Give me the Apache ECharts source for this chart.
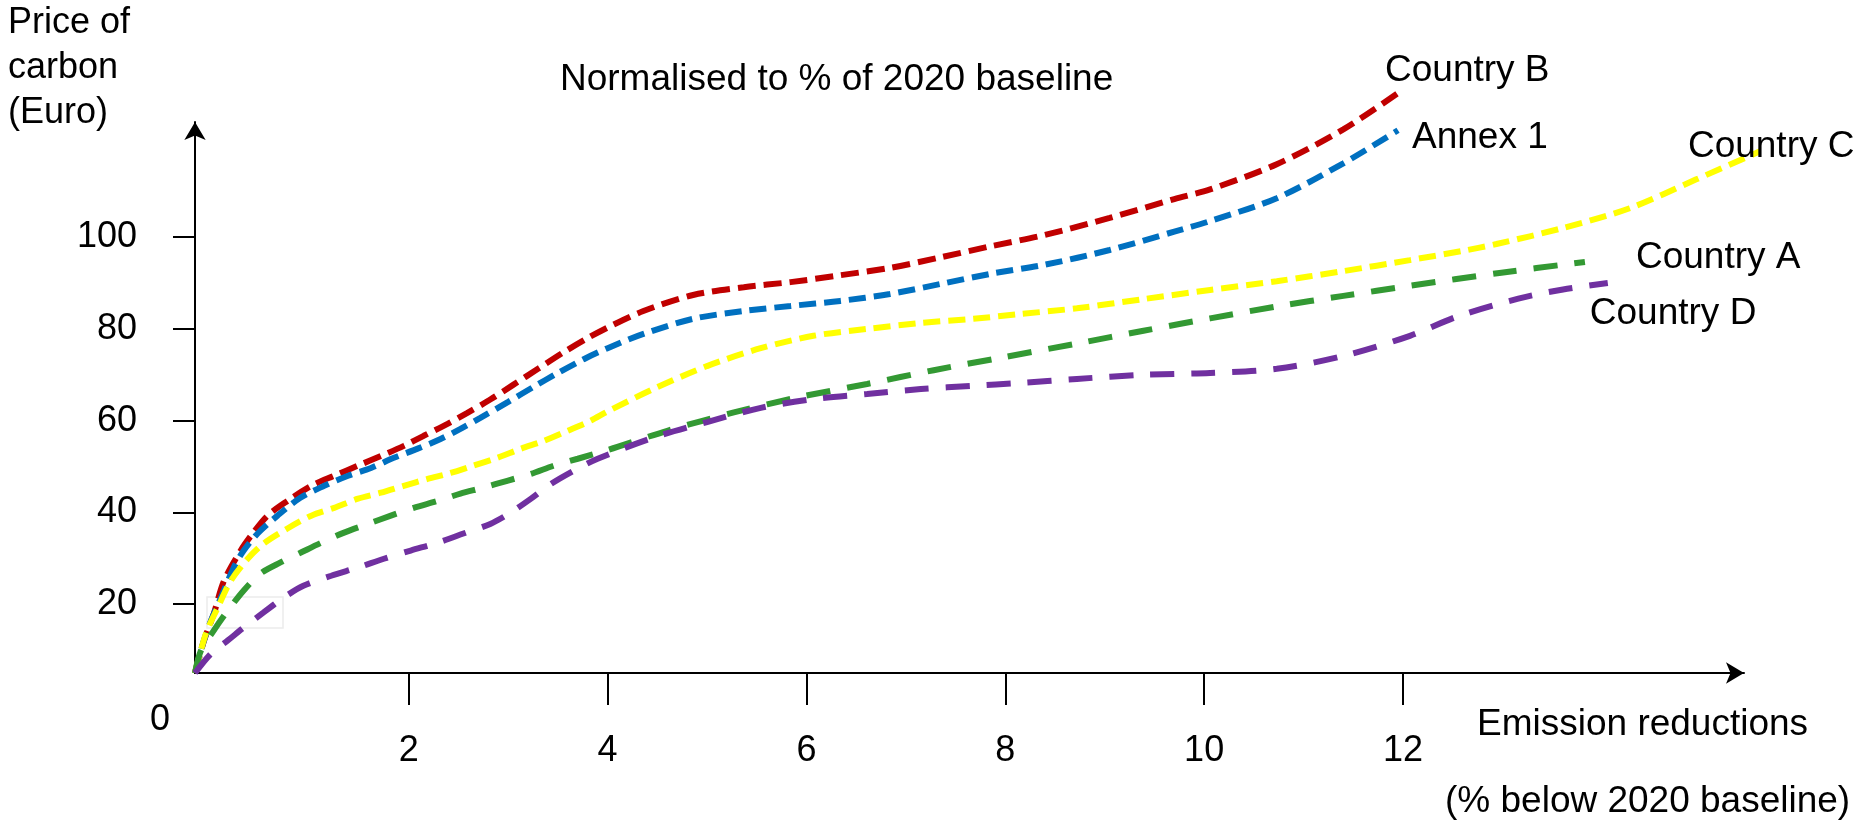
<!DOCTYPE html>
<html>
<head>
<meta charset="utf-8">
<script src="https://cdn.jsdelivr.net/npm/echarts@6/dist/echarts.min.js"></script>
<style>html,body{margin:0;padding:0;background:#fff;}#c{width:1860px;height:822px;}</style>
</head>
<body>
<div id="c"></div>
<script>
// ---- data (x: emission reductions %, y: price of carbon, Euro) ----
const xTickValues = [2, 4, 6, 8, 10, 12];
const yTickValues = [20, 40, 60, 80, 100];
const seriesNames = ['Country B', 'Annex 1', 'Country C', 'Country A', 'Country D'];

const countryB = [[-0.15,5],[-0.06,12],[0.04,18],[0.14,25],[0.31,31.7],[0.43,35.4],[0.58,39.3],[0.78,42.5],[1.02,45.8],[1.25,48],[1.49,50.2],[1.72,52.3],[1.95,54.5],[2.15,56.7],[2.39,59.3],[2.59,61.7],[2.82,64.6],[3.05,67.8],[3.3,71.3],[3.55,74.8],[3.8,78],[4.0,80.3],[4.36,83.9],[4.86,87.4],[5.37,89.1],[5.84,90.2],[6.34,91.7],[6.84,93.3],[7.35,95.6],[7.85,98],[8.4,100.5],[9.05,104.2],[9.7,108.3],[10.06,110.4],[10.73,115.9],[11.4,123.5],[11.95,131.4]];
const annex1 = [[-0.15,5],[-0.07,11.4],[0.01,16.4],[0.11,21.4],[0.24,28],[0.34,31.7],[0.48,35.4],[0.68,39.3],[0.91,43.2],[1.15,45.8],[1.39,48],[1.62,49.7],[1.85,51.9],[2.09,53.9],[2.32,56],[2.52,58.2],[2.72,60.6],[3.0,64.1],[3.25,67.3],[3.5,70.4],[3.76,73.4],[4.0,75.8],[4.36,78.9],[4.86,82.2],[5.37,83.9],[5.84,85],[6.34,86.1],[6.84,87.6],[7.35,89.8],[7.85,92],[8.4,94],[9.05,97.2],[9.7,101.2],[10.06,103.5],[10.73,108.5],[11.4,116.1],[11.95,123.3]];
const countryC = [[-0.15,5],[-0.04,13.6],[0.08,19.3],[0.21,25.1],[0.38,29.9],[0.54,33.2],[0.78,36.5],[1.02,39.3],[1.25,41],[1.49,43],[1.72,44.3],[1.95,45.8],[2.19,47.3],[2.42,48.6],[2.65,50.2],[2.89,51.9],[3.13,53.9],[3.36,55.6],[3.6,57.8],[3.83,60],[4.0,62],[4.46,66.9],[5.0,71.9],[5.54,75.8],[6.07,78.5],[6.61,80],[7.15,81.3],[7.68,82.2],[8.13,83.2],[8.72,84.5],[9.39,86.5],[10.06,88.5],[10.73,90.4],[11.4,92.6],[12.07,95],[12.6,97],[12.94,98.5],[13.61,102],[14.28,106.3],[14.95,112.6],[15.59,118.7]];
const countryA = [[-0.15,5],[-0.09,9.9],[0.04,14.3],[0.18,18.6],[0.34,23],[0.51,26.7],[0.71,29.1],[0.91,31.2],[1.12,33.4],[1.35,35.6],[1.59,37.5],[1.82,39.3],[2.05,41],[2.29,42.5],[2.52,44.1],[2.75,45.4],[2.99,46.9],[3.23,48.4],[3.46,50.2],[3.7,51.7],[4.0,53.6],[4.6,57.8],[5.27,61.8],[5.94,65.2],[6.61,68],[7.28,71],[7.95,73.7],[8.72,76.8],[9.39,79.6],[10.06,82.3],[10.73,84.9],[11.4,87.2],[12.07,89.4],[12.97,92.2],[13.83,94.6]];
const countryD = [[-0.15,5],[0.01,9.2],[0.18,12.1],[0.34,14.9],[0.54,18.2],[0.74,21.4],[0.94,24],[1.22,26.2],[1.49,28],[1.75,29.9],[2.02,31.7],[2.29,33.4],[2.55,35.4],[2.82,37.5],[3.02,39.9],[3.23,43],[3.43,46.2],[3.66,49.1],[3.9,51.7],[4.46,56.3],[5.0,59.7],[5.54,62.8],[6.07,64.7],[6.61,65.8],[7.15,66.9],[7.68,67.6],[8.13,68.2],[8.72,69.1],[9.39,70],[10.06,70.4],[10.73,71.3],[11.4,74.1],[12.07,78.5],[12.56,82.8],[13.16,86.6],[13.61,88.6],[14.06,90]];

const FONT = '"Liberation Sans", Arial, sans-serif';
const chart = echarts.init(document.getElementById('c'), null, {renderer: 'canvas'});

// visible axes (grid 0) and a wider, invisible twin (grid 1) with the same scale,
// so the lines are not clipped at the x-axis arrow
const X_MIN = -0.15, X_MAX = 15.43, X_MAX_DATA = 16.0;
const Y_MIN = 5, Y_MAX = 125.1;
const GL = 195, GR = 116, GT = 122, GB = 149;
const pxPerX = (1860 - GL - GR) / (X_MAX - X_MIN);
const GR2 = 1860 - GL - pxPerX * (X_MAX_DATA - X_MIN);

function mkSeries(name, data, color, dash, labelOffset) {
  return {
    name: name, type: 'line', data: data, smooth: 0.3, showSymbol: false, clip: false,
    xAxisIndex: 1, yAxisIndex: 1,
    lineStyle: {color: color, width: 6, type: dash, cap: 'butt'},
    endLabel: {show: true, formatter: '{a}', color: '#000', fontSize: 37, fontFamily: FONT, offset: labelOffset},
    emphasis: {disabled: true}, silent: true
  };
}

const axisLineStyle = {color: '#000', width: 2};
chart.setOption({
  backgroundColor: '#fff',
  animation: false,
  grid: [
    {left: GL, right: GR, top: GT, bottom: GB},
    {left: GL, right: GR2, top: GT, bottom: GB}
  ],
  xAxis: [{
    gridIndex: 0, type: 'value', min: X_MIN, max: X_MAX,
    axisLine: {show: true, onZero: false, symbol: ['none', 'arrow'], symbolSize: [16, 18], lineStyle: axisLineStyle},
    axisTick: {show: true, length: 32, inside: false, customValues: xTickValues, lineStyle: axisLineStyle},
    axisLabel: {show: true, customValues: xTickValues, margin: 60, fontSize: 36, color: '#000', fontFamily: FONT},
    splitLine: {show: false}
  }, {
    gridIndex: 1, type: 'value', min: X_MIN, max: X_MAX_DATA, show: false, splitLine: {show: false}
  }],
  yAxis: [{
    gridIndex: 0, type: 'value', min: Y_MIN, max: Y_MAX,
    axisLine: {show: true, onZero: false, symbol: ['none', 'arrow'], symbolSize: [16, 18], lineStyle: axisLineStyle},
    axisTick: {show: true, length: 22, inside: false, customValues: yTickValues, lineStyle: axisLineStyle},
    axisLabel: {show: true, customValues: yTickValues, margin: 58, fontSize: 36, color: '#000', fontFamily: FONT},
    splitLine: {show: false}
  }, {
    gridIndex: 1, type: 'value', min: Y_MIN, max: Y_MAX, show: false, splitLine: {show: false}
  }],
  graphic: [
    {type: 'text', left: 8, top: 1, style: {text: 'Price of\ncarbon\n(Euro)', fontSize: 36, lineHeight: 45, fill: '#000', fontFamily: FONT}},
    {type: 'text', left: 560, top: 61, style: {text: 'Normalised to % of 2020 baseline', fontSize: 37, fill: '#000', fontFamily: FONT}},
    {type: 'text', left: 150, top: 702, style: {text: '0', fontSize: 36, fill: '#000', fontFamily: FONT}},
    {type: 'text', left: 1477, top: 706, style: {text: 'Emission reductions', fontSize: 37, fill: '#000', fontFamily: FONT}},
    {type: 'text', left: 1445, top: 783, style: {text: '(% below 2020 baseline)', fontSize: 37, fill: '#000', fontFamily: FONT}},
    {type: 'rect', shape: {x: 207, y: 597, width: 76, height: 31}, style: {fill: 'none', stroke: '#ececec', lineWidth: 1.5}, z: -1}
  ],
  series: [
    mkSeries(seriesNames[0], countryB, '#C00000', [18, 8], [-21, -22]),
    mkSeries(seriesNames[1], annex1, '#0070C0', [17, 8], [6, 8]),
    mkSeries(seriesNames[2], countryC, '#FFFF00', [17, 8], [-80, -5]),
    mkSeries(seriesNames[3], countryA, '#339933', [24, 17], [43, -4]),
    mkSeries(seriesNames[4], countryD, '#7030A0', [24, 17], [-26, 31])
  ]
});
</script>
</body>
</html>
